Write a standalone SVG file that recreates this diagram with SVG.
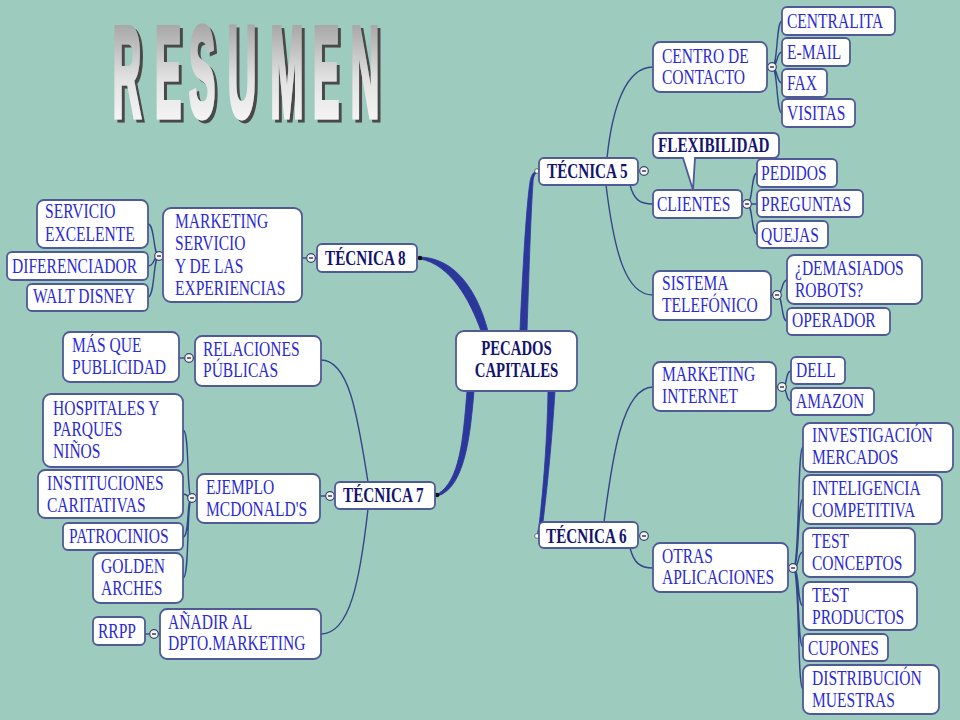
<svg xmlns="http://www.w3.org/2000/svg" xmlns:xlink="http://www.w3.org/1999/xlink" width="960" height="720" viewBox="0 0 960 720">
<defs>
<style>
.bx{fill:#fff;stroke:#4f5a96;stroke-width:1.8}
.t{font-family:"Liberation Serif","Times New Roman",serif;font-size:21px;fill:#2a2ad6}
.b{font-family:"Liberation Serif","Times New Roman",serif;font-size:20px;font-weight:bold;fill:#14146e}
.c{fill:none;stroke:#34468a;stroke-width:1.4}
.th{fill:#2c379c;stroke:#2c379c;stroke-width:0.8}
.title{font-family:"Liberation Sans",Arial,sans-serif;font-weight:bold;font-size:80px}
</style>
<linearGradient id="tg" x1="0" y1="0" x2="0" y2="1">
<stop offset="0" stop-color="#8c8c8c"/>
<stop offset="0.55" stop-color="#e2e2e2"/>
<stop offset="1" stop-color="#ffffff"/>
</linearGradient>
<filter id="sh" x="-5%" y="-5%" width="115%" height="120%">
<feDropShadow dx="3" dy="3" stdDeviation="0" flood-color="#484848" flood-opacity="1"/>
</filter>
<g id="mc"><circle r="4.3" fill="#f4f4f4" stroke="#3b4472" stroke-width="1.2"/><line x1="-2" x2="2" y1="0" y2="0" stroke="#222" stroke-width="1.3"/></g>
</defs>
<rect width="960" height="720" fill="#9dcbbe"/>

<g id="title" filter="url(#sh)">
<g transform="scale(0.5,1.62)">
<text class="title" fill="url(#tg)" stroke="url(#tg)" stroke-width="3" vector-effect="non-scaling-stroke" stroke-linejoin="miter" text-anchor="middle" y="72.3"><tspan x="254">R</tspan><tspan x="336">E</tspan><tspan x="404">S</tspan><tspan x="484">U</tspan><tspan x="574">M</tspan><tspan x="652">E</tspan><tspan x="730">N</tspan></text>
</g>
</g>

<g id="connectors">
<path class="th" d="M520,331 C523,260 527,200 530,182 C531,175 534,171 538,170 L538,172 C535,173 533,177 533,183 C531,210 529,270 527,331 Z"/>
<path class="th" d="M548,391 C547,450 542,500 539,526 C538,531 537,534 538,536 L540,536 C541,532 542,528 543,522 C547,490 552,440 555,391 Z"/>
<path class="th" d="M420,257 C455,258 477,290 488,331 L481,331 C470,300 450,264 420,259 Z"/>
<path class="th" d="M467,391 C463,440 460,480 438,494 L438,496 C464,487 470,440 474,391 Z"/>
<circle cx="420" cy="258" r="2.3" fill="#111"/>
<circle cx="437" cy="495" r="2.3" fill="#111"/>
<circle cx="537" cy="171" r="2.3" fill="#fff" stroke="#555" stroke-width="0.8"/>
<circle cx="537" cy="536" r="2.3" fill="#fff" stroke="#555" stroke-width="0.8"/>

<path class="c" d="M607,158 C612,110 625,67 653,67"/>
<path class="c" d="M630,185 C634,200 640,204 653,204"/>
<path class="c" d="M606,185 C614,250 625,295 653,295"/>
<path class="c" d="M767,67 H772 M772,67 C778,67 776,21 782,21 M772,67 C778,67 776,52 782,52 M772,67 C778,67 776,83 782,83 M772,67 C778,67 776,113 782,113"/>
<path class="c" d="M742,204 H747 M747,204 C753,204 751,173 757,173 M747,204 H757 M747,204 C753,204 751,234 757,234"/>
<path class="c" d="M771,295 H777 M777,295 C783,295 781,280 787,280 M777,295 C783,295 781,321 787,321"/>
<path class="c" d="M604,522 C612,460 622,387 653,387"/>
<path class="c" d="M776,387 H782 M782,387 C788,387 785,371 791,371 M782,387 C788,387 785,401 791,401"/>
<path class="c" d="M630,548 C634,563 640,568 653,568"/>
<path class="c" d="M788,568 H793 M793,568 C800,568 797,447 803,447 M793,568 C800,568 797,499 803,499 M793,568 C800,568 797,552 803,552 M793,568 C800,568 797,606 803,606 M793,568 C800,568 797,647 803,647 M793,568 C800,568 797,689 803,689"/>
<path class="c" d="M302,258 H317"/>
<path class="c" d="M163,256 H159 M159,256 C153,256 155,224 148,224 M159,256 C153,256 155,266 148,266 M159,256 C153,256 155,297 148,297"/>
<path class="c" d="M321,360 C350,360 358,420 368,482"/>
<path class="c" d="M320,496 H335"/>
<path class="c" d="M197,498 H192 M192,498 C186,498 190,430 183,430 M192,498 C186,498 189,494 183,494 M192,498 C186,498 190,537 183,537 M192,498 C186,498 190,578 183,578"/>
<path class="c" d="M368,509 C360,580 350,634 321,634"/>
<path class="c" d="M179,358 H195"/>
<path class="c" d="M145,634 H160"/>

<use xlink:href="#mc" x="644" y="171"/>
<use xlink:href="#mc" x="644" y="536"/>
<use xlink:href="#mc" x="772" y="67"/>
<use xlink:href="#mc" x="747" y="204"/>
<use xlink:href="#mc" x="777" y="295"/>
<use xlink:href="#mc" x="782" y="387"/>
<use xlink:href="#mc" x="793" y="568"/>
<use xlink:href="#mc" x="311" y="258"/>
<use xlink:href="#mc" x="159" y="256"/>
<use xlink:href="#mc" x="189" y="358"/>
<use xlink:href="#mc" x="192" y="498"/>
<use xlink:href="#mc" x="330" y="496"/>
<use xlink:href="#mc" x="154" y="634"/>
</g>

<g id="pecados"><rect class="bx" x="456" y="331" width="121" height="60" rx="8"/><text class="b" font-size="21" transform="translate(516.5,355) scale(.74,1)" text-anchor="middle"><tspan x="0">PECADOS</tspan><tspan x="0" dy="22">CAPITALES</tspan></text></g>

<g id="tecnica5"><rect class="bx" x="539" y="158" width="99" height="27" rx="5"/><text class="b" transform="translate(547,178) scale(.76,1)">TÉCNICA 5</text></g>
<g id="tecnica6"><rect class="bx" x="539" y="522" width="99" height="26" rx="5"/><text class="b" transform="translate(546,543) scale(.76,1)">TÉCNICA 6</text></g>
<g id="tecnica8"><rect class="bx" x="317" y="244" width="100" height="28" rx="5"/><text class="b" transform="translate(325,265) scale(.76,1)">TÉCNICA 8</text></g>
<g id="tecnica7"><rect class="bx" x="335" y="482" width="100" height="27" rx="5"/><text class="b" transform="translate(343,502) scale(.76,1)">TÉCNICA 7</text></g>

<g id="centro"><rect class="bx" x="653" y="42" width="114" height="50" rx="7"/><text class="t" transform="translate(662,63) scale(.74,1)"><tspan x="0">CENTRO DE</tspan><tspan x="0" dy="21">CONTACTO</tspan></text></g>
<g id="centralita"><rect class="bx" x="782" y="7" width="113" height="28" rx="5"/><text class="t" transform="translate(787,28) scale(.74,1)">CENTRALITA</text></g>
<g id="email"><rect class="bx" x="782" y="38" width="68" height="28" rx="5"/><text class="t" transform="translate(787,59) scale(.74,1)">E-MAIL</text></g>
<g id="fax"><rect class="bx" x="782" y="69" width="45" height="28" rx="5"/><text class="t" transform="translate(787,90) scale(.74,1)">FAX</text></g>
<g id="visitas"><rect class="bx" x="782" y="99" width="73" height="28" rx="5"/><text class="t" transform="translate(787,120) scale(.74,1)">VISITAS</text></g>

<g id="flexibilidad"><path class="bx" d="M659,133 H773 Q779,133 779,139 V152 Q779,158 773,158 H695 L693,190 L683,158 H659 Q653,158 653,152 V139 Q653,133 659,133 Z"/><text class="b" transform="translate(658,152) scale(.76,1)">FLEXIBILIDAD</text></g>
<g id="clientes"><rect class="bx" x="653" y="190" width="89" height="28" rx="5"/><text class="t" transform="translate(657,211) scale(.74,1)">CLIENTES</text></g>
<g id="pedidos"><rect class="bx" x="757" y="159" width="80" height="28" rx="5"/><text class="t" transform="translate(761,180) scale(.74,1)">PEDIDOS</text></g>
<g id="preguntas"><rect class="bx" x="757" y="190" width="106" height="27" rx="5"/><text class="t" transform="translate(761,211) scale(.74,1)">PREGUNTAS</text></g>
<g id="quejas"><rect class="bx" x="757" y="221" width="71" height="27" rx="5"/><text class="t" transform="translate(761,242) scale(.74,1)">QUEJAS</text></g>

<g id="sistema"><rect class="bx" x="653" y="271" width="118" height="49" rx="7"/><text class="t" transform="translate(662,290) scale(.74,1)"><tspan x="0">SISTEMA</tspan><tspan x="0" dy="22">TELEFÓNICO</tspan></text></g>
<g id="robots"><rect class="bx" x="787" y="255" width="135" height="49" rx="7"/><text class="t" transform="translate(795,275) scale(.74,1)"><tspan x="0">¿DEMASIADOS</tspan><tspan x="0" dy="22">ROBOTS?</tspan></text></g>
<g id="operador"><rect class="bx" x="787" y="308" width="103" height="27" rx="5"/><text class="t" transform="translate(792,327) scale(.74,1)">OPERADOR</text></g>

<g id="mkinternet"><rect class="bx" x="653" y="362" width="123" height="49" rx="7"/><text class="t" transform="translate(662,381) scale(.74,1)"><tspan x="0">MARKETING</tspan><tspan x="0" dy="22">INTERNET</tspan></text></g>
<g id="dell"><rect class="bx" x="791" y="357" width="54" height="27" rx="5"/><text class="t" transform="translate(796,377) scale(.74,1)">DELL</text></g>
<g id="amazon"><rect class="bx" x="791" y="388" width="83" height="27" rx="5"/><text class="t" transform="translate(796,408) scale(.74,1)">AMAZON</text></g>

<g id="otras"><rect class="bx" x="653" y="543" width="135" height="49" rx="7"/><text class="t" transform="translate(662,563) scale(.74,1)"><tspan x="0">OTRAS</tspan><tspan x="0" dy="21">APLICACIONES</tspan></text></g>
<g id="investigacion"><rect class="bx" x="803" y="423" width="150" height="49" rx="7"/><text class="t" transform="translate(812,442) scale(.74,1)"><tspan x="0">INVESTIGACIÓN</tspan><tspan x="0" dy="22">MERCADOS</tspan></text></g>
<g id="inteligencia"><rect class="bx" x="803" y="475" width="139" height="49" rx="7"/><text class="t" transform="translate(812,495) scale(.74,1)"><tspan x="0">INTELIGENCIA</tspan><tspan x="0" dy="22">COMPETITIVA</tspan></text></g>
<g id="testconceptos"><rect class="bx" x="803" y="528" width="112" height="49" rx="7"/><text class="t" transform="translate(812,548) scale(.74,1)"><tspan x="0">TEST</tspan><tspan x="0" dy="22">CONCEPTOS</tspan></text></g>
<g id="testproductos"><rect class="bx" x="803" y="582" width="114" height="48" rx="7"/><text class="t" transform="translate(812,602) scale(.74,1)"><tspan x="0">TEST</tspan><tspan x="0" dy="22">PRODUCTOS</tspan></text></g>
<g id="cupones"><rect class="bx" x="803" y="634" width="85" height="27" rx="5"/><text class="t" transform="translate(808,655) scale(.74,1)">CUPONES</text></g>
<g id="distribucion"><rect class="bx" x="803" y="665" width="136" height="49" rx="7"/><text class="t" transform="translate(812,685) scale(.74,1)"><tspan x="0">DISTRIBUCIÓN</tspan><tspan x="0" dy="22">MUESTRAS</tspan></text></g>

<g id="mkservicio"><rect class="bx" x="163" y="208" width="139" height="94" rx="8"/><text class="t" transform="translate(175,228) scale(.74,1)"><tspan x="0">MARKETING</tspan><tspan x="0" dy="22.3">SERVICIO</tspan><tspan x="0" dy="22.3">Y DE LAS</tspan><tspan x="0" dy="22.3">EXPERIENCIAS</tspan></text></g>
<g id="servicioexc"><rect class="bx" x="37" y="200" width="111" height="48" rx="7"/><text class="t" transform="translate(45,218) scale(.74,1)"><tspan x="0">SERVICIO</tspan><tspan x="0" dy="23">EXCELENTE</tspan></text></g>
<g id="diferenciador"><rect class="bx" x="7" y="252" width="141" height="28" rx="5"/><text class="t" transform="translate(12,273) scale(.74,1)">DIFERENCIADOR</text></g>
<g id="waltdisney"><rect class="bx" x="27" y="284" width="121" height="27" rx="5"/><text class="t" transform="translate(33,303) scale(.74,1)">WALT DISNEY</text></g>

<g id="masque"><rect class="bx" x="63" y="332" width="116" height="50" rx="7"/><text class="t" transform="translate(72,352) scale(.74,1)"><tspan x="0">MÁS QUE</tspan><tspan x="0" dy="22">PUBLICIDAD</tspan></text></g>
<g id="relaciones"><rect class="bx" x="195" y="336" width="126" height="50" rx="7"/><text class="t" transform="translate(203,356) scale(.74,1)"><tspan x="0">RELACIONES</tspan><tspan x="0" dy="21">PÚBLICAS</tspan></text></g>
<g id="hospitales"><rect class="bx" x="43" y="394" width="140" height="73" rx="8"/><text class="t" transform="translate(53,415) scale(.74,1)"><tspan x="0">HOSPITALES Y</tspan><tspan x="0" dy="21.5">PARQUES</tspan><tspan x="0" dy="21.5">NIÑOS</tspan></text></g>
<g id="instituciones"><rect class="bx" x="38" y="470" width="145" height="48" rx="7"/><text class="t" transform="translate(47,490) scale(.74,1)"><tspan x="0">INSTITUCIONES</tspan><tspan x="0" dy="22">CARITATIVAS</tspan></text></g>
<g id="ejemplo"><rect class="bx" x="197" y="474" width="123" height="49" rx="7"/><text class="t" transform="translate(206,494) scale(.74,1)"><tspan x="0">EJEMPLO</tspan><tspan x="0" dy="22">MCDONALD'S</tspan></text></g>
<g id="patrocinios"><rect class="bx" x="63" y="523" width="120" height="27" rx="5"/><text class="t" transform="translate(69,543) scale(.74,1)">PATROCINIOS</text></g>
<g id="golden"><rect class="bx" x="93" y="553" width="90" height="50" rx="7"/><text class="t" transform="translate(101,573) scale(.74,1)"><tspan x="0">GOLDEN</tspan><tspan x="0" dy="22">ARCHES</tspan></text></g>
<g id="rrpp"><rect class="bx" x="93" y="617" width="52" height="28" rx="5"/><text class="t" transform="translate(98,638) scale(.74,1)">RRPP</text></g>
<g id="anadir"><rect class="bx" x="160" y="609" width="161" height="50" rx="7"/><text class="t" transform="translate(168,629) scale(.74,1)"><tspan x="0">AÑADIR AL</tspan><tspan x="0" dy="21">DPTO.MARKETING</tspan></text></g>
</svg>
